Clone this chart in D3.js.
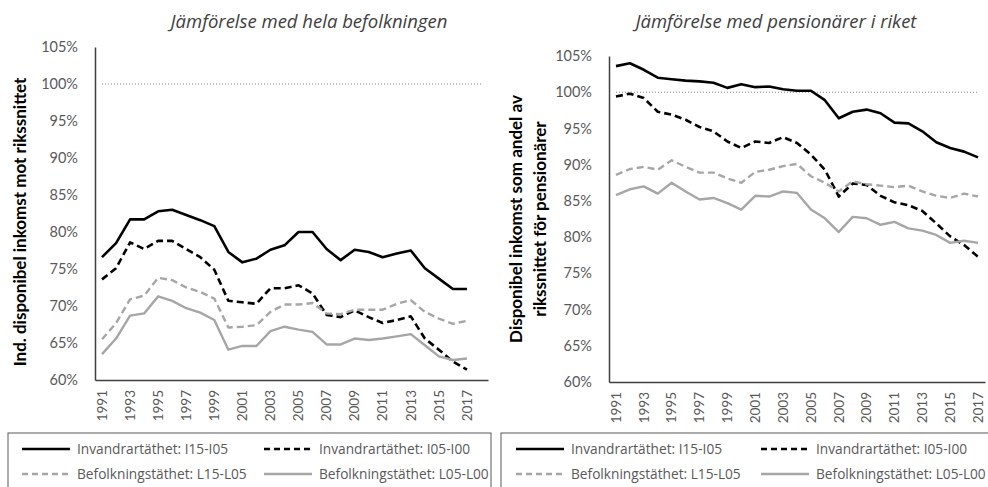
<!DOCTYPE html>
<html>
<head>
<meta charset="utf-8">
<script src="https://cdn.jsdelivr.net/npm/d3@7"></script>
<style>
  body { margin: 0; background: #fff; }
  .tick text { font-family: Lato, "Liberation Sans", sans-serif; fill: #595959; }
  .title { font-family: "Open Sans", sans-serif; font-style: italic; fill: #404040; }
  .ytitle { font-family: Lato, "Liberation Sans", sans-serif; font-weight: bold; fill: #000; }
  .legend text { font-family: "Open Sans", sans-serif; fill: #595959; }
</style>
</head>
<body>
<div id="chart"></div>
<script>
// years shown on the x axis
var years = [1991,1992,1993,1994,1995,1996,1997,1998,1999,2000,2001,2002,2003,2004,
             2005,2006,2007,2008,2009,2010,2011,2012,2013,2014,2015,2016,2017];
var yTicks = [60,65,70,75,80,85,90,95,100,105];
var refValue = 100;

// left: compared with the whole population (%)
var leftI15I05 = [76.6,78.5,81.7,81.7,82.8,83.0,82.3,81.6,80.8,77.3,75.9,76.4,77.6,78.2,80.0,80.0,77.7,76.2,77.6,77.3,76.6,77.1,77.5,75.1,73.7,72.3,72.3];
var leftI05I00 = [73.6,75.1,78.6,77.7,78.8,78.8,77.7,76.6,74.9,70.7,70.5,70.3,72.4,72.4,72.8,71.7,68.8,68.5,69.4,68.5,67.7,68.1,68.6,65.6,64.1,62.5,61.4];
var leftL15L05 = [65.5,67.7,70.9,71.4,73.8,73.5,72.5,71.9,71.0,67.1,67.2,67.4,69.2,70.2,70.2,70.4,69.0,68.9,69.5,69.5,69.5,70.3,70.8,69.2,68.3,67.6,68.0];
var leftL05L00 = [63.5,65.6,68.7,69.0,71.3,70.7,69.7,69.1,68.1,64.1,64.6,64.6,66.6,67.2,66.8,66.5,64.8,64.8,65.6,65.4,65.6,65.9,66.2,64.7,63.2,62.7,62.9];

// right: compared with pensioners in the country (%)
var rightI15I05 = [103.6,104.0,103.1,102.0,101.8,101.6,101.5,101.3,100.6,101.1,100.7,100.8,100.4,100.2,100.2,98.9,96.4,97.3,97.6,97.1,95.8,95.7,94.6,93.1,92.3,91.8,91.0];
var rightI05I00 = [99.4,99.8,99.2,97.3,96.9,96.2,95.2,94.6,93.2,92.3,93.2,93.0,93.8,93.0,91.4,89.3,85.6,87.4,87.2,85.7,84.8,84.4,83.6,81.9,80.1,78.9,77.3];
var rightL15L05 = [88.6,89.4,89.7,89.3,90.6,89.7,88.9,88.9,88.1,87.5,89.0,89.3,89.8,90.1,88.4,87.5,86.3,87.7,87.3,87.1,86.9,87.1,86.3,85.7,85.4,86.0,85.6];
var rightL05L00 = [85.8,86.6,87.0,86.0,87.5,86.3,85.2,85.4,84.7,83.8,85.7,85.6,86.3,86.1,83.8,82.6,80.7,82.8,82.6,81.7,82.1,81.2,80.9,80.3,79.2,79.5,79.2];

var seriesNames = ["Invandrartäthet: I15-I05", "Invandrartäthet: I05-I00",
                   "Befolkningstäthet: L15-L05", "Befolkningstäthet: L05-L00"];

// styles per series
var styles = [
  {color: "#000", dash: null, w: 2.6},
  {color: "#000", dash: "7,4", w: 2.6},
  {color: "#a6a6a6", dash: "7,4", w: 2.4},
  {color: "#a6a6a6", dash: null, w: 2.4}
];

var svg = d3.select("#chart").append("svg")
  .attr("width", 988)
  .attr("height", 487);

function drawPanel(p) {
  var x = d3.scaleBand()
    .domain(p.cats)
    .range([p.left, p.right]);
  var y = d3.scaleLinear()
    .domain([60, 105])
    .range([p.bottom, p.top]);
  var g = svg.append("g");
  var cx = function(yr) { return x(yr) + x.bandwidth() / 2; };

  // 100% dotted reference
  g.append("path")
    .datum(p.cats)
    .attr("fill", "none")
    .attr("stroke", "#7f7f7f")
    .attr("stroke-width", 1)
    .attr("stroke-dasharray", "1,2")
    .attr("d", d3.line().x(function(d) { return cx(d); }).y(function() { return y(refValue); }));

  // y axis
  var ya = g.append("g")
    .attr("transform", "translate(" + p.left + ",0)")
    .call(d3.axisLeft(y).tickValues(yTicks).tickSize(0).tickPadding(17)
      .tickFormat(function(d) { return d + "%"; }));
  ya.select(".domain").attr("stroke", "#404040").attr("stroke-width", 1.5);
  ya.selectAll("text").style("font-size", "14.5px");

  // x axis
  var xa = g.append("g")
    .attr("transform", "translate(0," + p.bottom + ")")
    .call(d3.axisBottom(x).tickValues(years.filter(function(d, i) { return i % 2 == 0; }))
      .tickSize(0).tickPadding(0));
  xa.select(".domain").attr("stroke", "#404040").attr("stroke-width", 1.5);
  xa.selectAll("text")
    .style("font-size", "13.5px")
    .attr("text-anchor", "end")
    .attr("dy", "0.35em")
    .attr("transform", "translate(0,10) rotate(-90)");

  // series
  p.series.forEach(function(s, i) {
    g.append("path")
      .datum(s)
      .attr("fill", "none")
      .attr("stroke", styles[i].color)
      .attr("stroke-width", styles[i].w)
      .attr("stroke-dasharray", styles[i].dash)
      .attr("stroke-linejoin", "round")
      .attr("d", d3.line().x(function(d, j) { return cx(years[j]); }).y(function(d) { return y(d); }));
  });

  // title
  svg.append("text")
    .attr("class", "title")
    .attr("x", p.titleX)
    .attr("y", 28)
    .attr("text-anchor", "middle")
    .style("font-size", "18.5px")
    .text(p.title);

  // y title (one or two lines)
  p.ytitle.forEach(function(t, i) {
    svg.append("text")
      .attr("class", "ytitle")
      .attr("transform", "translate(" + p.ytitleX[i] + "," + p.ytitleY + ") rotate(-90)")
      .attr("text-anchor", "middle")
      .style("font-size", "17px")
      .text(t);
  });

  // legend
  var lg = svg.append("g").attr("class", "legend");
  lg.append("rect")
    .attr("x", p.legX).attr("y", 433)
    .attr("width", p.legW).attr("height", 70)
    .attr("fill", "none")
    .attr("stroke", "#595959")
    .attr("stroke-width", 1);
  seriesNames.forEach(function(name, i) {
    var col = i % 2, row = Math.floor(i / 2);
    var lx = p.legX + p.legCols[col];
    var ly = 449 + row * 25;
    lg.append("line")
      .attr("x1", lx).attr("x2", lx + 48)
      .attr("y1", ly).attr("y2", ly)
      .attr("stroke", styles[i].color)
      .attr("stroke-width", styles[i].w)
      .attr("stroke-dasharray", styles[i].dash ? "6,4" : null);
    lg.append("text")
      .attr("x", lx + 55)
      .attr("y", ly)
      .attr("dy", "0.35em")
      .style("font-size", "13.7px")
      .text(name);
  });
}

drawPanel({
  cats: years.concat([2018]),
  left: 95, right: 488, top: 47, bottom: 380,
  series: [leftI15I05, leftI05I00, leftL15L05, leftL05L00],
  title: "Jämförelse med hela befolkningen", titleX: 309,
  ytitle: ["Ind. disponibel inkomst mot rikssnittet"], ytitleX: [26], ytitleY: 222,
  legX: 8, legW: 483, legCols: [14, 256]
});

drawPanel({
  cats: years,
  left: 609, right: 985, top: 56, bottom: 382,
  series: [rightI15I05, rightI05I00, rightL15L05, rightL05L00],
  title: "Jämförelse med pensionärer i riket", titleX: 776,
  ytitle: ["Disponibel inkomst som andel av", "rikssnittet för pensionärer"],
  ytitleX: [522, 546], ytitleY: 219,
  legX: 501, legW: 500, legCols: [15, 260]
});
</script>
</body>
</html>
